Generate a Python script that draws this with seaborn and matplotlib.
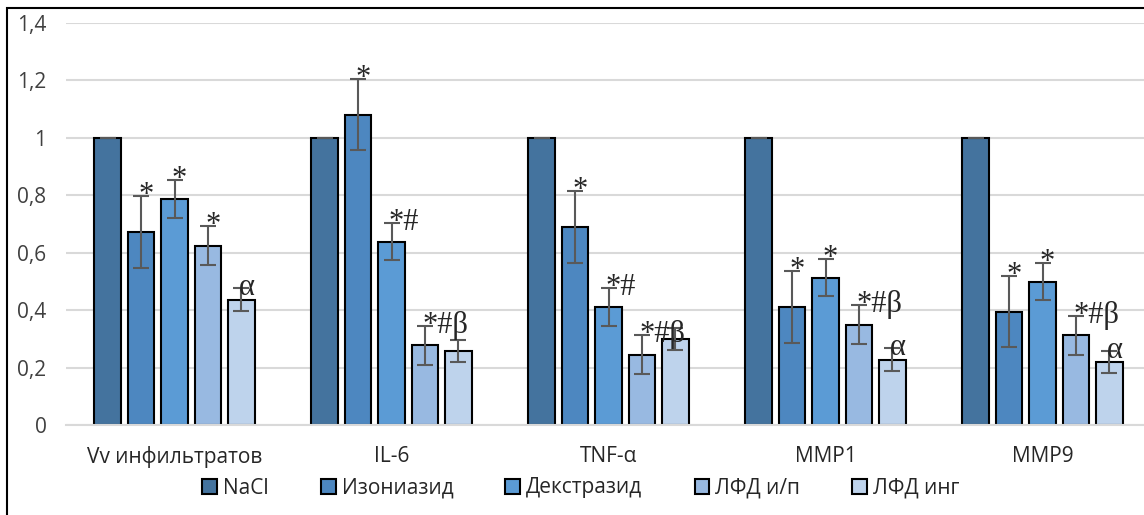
import numpy as np
import pandas as pd
import matplotlib
matplotlib.use("Agg")
import matplotlib.pyplot as plt
import seaborn as sns
from matplotlib.patches import Rectangle
from matplotlib.ticker import FuncFormatter, FixedLocator

# values
categories = ["Vv инфильтратов", "IL-6", "TNF-α", "MMP1", "MMP9"]
groups = ["NaCl", "Изониазид", "Декстразид", "ЛФД и/п", "ЛФД инг"]

nacl = [1.0, 1.0, 1.0, 1.0, 1.0]
isoniazid = [0.673, 1.081, 0.689, 0.411, 0.395]
dextrazid = [0.787, 0.638, 0.411, 0.513, 0.499]
lfd_ip = [0.624, 0.277, 0.244, 0.349, 0.312]
lfd_ing = [0.437, 0.257, 0.300, 0.228, 0.219]

# error bars
err_nacl = [0.0, 0.0, 0.0, 0.0, 0.0]
err_isoniazid = [0.125, 0.125, 0.125, 0.125, 0.124]
err_dextrazid = [0.066, 0.064, 0.066, 0.065, 0.065]
err_lfd_ip = [0.068, 0.068, 0.068, 0.068, 0.068]
err_lfd_ing = [0.039, 0.039, 0.039, 0.039, 0.039]

# significance marks
marks_nacl = ["", "", "", "", ""]
marks_isoniazid = ["*", "*", "*", "*", "*"]
marks_dextrazid = ["*", "*#", "*#", "*", "*"]
marks_lfd_ip = ["*", "*#β", "*#β", "*#β", "*#β"]
marks_lfd_ing = ["α", "", "", "α", "α"]

colors = ["#44739E", "#4D87C0", "#5B9BD5", "#98B9E1", "#BED3EC"]

values = [nacl, isoniazid, dextrazid, lfd_ip, lfd_ing]
errors = [err_nacl, err_isoniazid, err_dextrazid, err_lfd_ip, err_lfd_ing]
marks = [marks_nacl, marks_isoniazid, marks_dextrazid, marks_lfd_ip, marks_lfd_ing]

rows = []
for g, vals in zip(groups, values):
    for c, v in zip(categories, vals):
        rows.append({"category": c, "group": g, "value": v})
df = pd.DataFrame(rows)

sns.set_style("white")
plt.rcParams['font.family'] = ['Open Sans', 'DejaVu Sans']

fig = plt.figure(figsize=(11.44, 5.15), dpi=100)
ax = fig.add_axes([66 / 1144, 90 / 515, 1085 / 1144, 402 / 515])

sns.barplot(data=df, x="category", y="value", hue="group", order=categories,
            hue_order=groups, palette=colors, errorbar=None, width=0.77, gap=0.2,
            edgecolor="black", linewidth=1.5, saturation=1, ax=ax)

# error bars + marks
for cont, errs, mk in zip(ax.containers, errors, marks):
    for bar, e, m in zip(cont, errs, mk):
        xc = bar.get_x() + bar.get_width() / 2
        h = bar.get_height()
        ax.errorbar(xc, h, yerr=e, color="#595959", elinewidth=1.5,
                    capsize=6, capthick=1.5, zorder=5)
        if m:
            ax.annotate(m, (xc, h + e), xytext=(-2, -5), textcoords="offset points",
                        ha="left", va="baseline", fontsize=22,
                        family="Liberation Serif", zorder=6)

ax.set_ylim(0, 1.4)
ax.set_xlim(-0.5, 4.5)
ax.set_yticks(np.arange(0, 1.41, 0.2))
ax.yaxis.set_major_formatter(FuncFormatter(lambda v, p: f"{v:g}".replace(".", ",")))
ax.grid(axis="y", color="#D9D9D9", linewidth=1.5)
ax.set_axisbelow(True)
for s in ["left", "right", "top"]:
    ax.spines[s].set_visible(False)
ax.spines["bottom"].set_color("#D9D9D9")
ax.spines["bottom"].set_linewidth(1.5)
ax.tick_params(axis="y", length=0, pad=14, labelsize=15, labelcolor="#404040")
ax.tick_params(axis="x", which="major", length=0, pad=15, labelsize=15, labelcolor="#262626")
ax.xaxis.set_minor_locator(FixedLocator(np.arange(-0.5, 4.6, 1)))
ax.tick_params(axis="x", which="minor", length=7, width=1.5, color="#D9D9D9")
ax.set_xlabel("")
ax.set_ylabel("")

leg = ax.legend(loc="center", bbox_to_anchor=(581 / 1144, 27 / 515),
                bbox_transform=fig.transFigure, ncol=5, frameon=False,
                fontsize=15, handlelength=0.7, handleheight=0.7,
                handletextpad=0.3, columnspacing=2.5)
for t in leg.get_texts():
    t.set_color("#262626")

# outer frame
fig.patches.append(Rectangle((7 / 1144, -0.1), 1.2, (507 / 515) + 0.1,
                             transform=fig.transFigure, fill=False,
                             edgecolor="black", linewidth=1.5))

fig.savefig("out.png", dpi=100)
